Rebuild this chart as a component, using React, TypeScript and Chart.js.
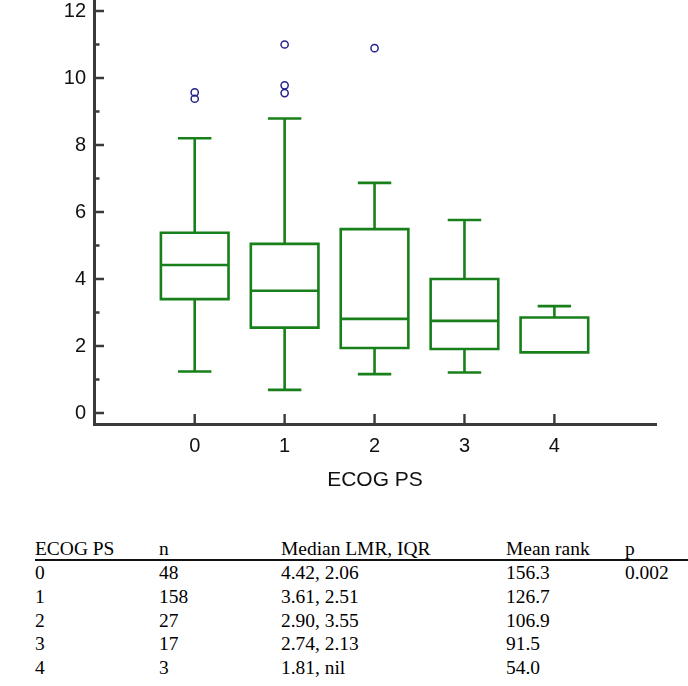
import React, { useEffect, useRef } from "react";
import { Chart, registerables } from "chart.js";

Chart.register(...registerables);

// ---- chart data ----
const categories = [0, 1, 2, 3, 4];
const categoryLabels = ["0", "1", "2", "3", "4"];
const whiskerLow = [1.24, 0.69, 1.16, 1.21, 1.81];
const quartile1 = [3.4, 2.55, 1.94, 1.91, 1.81];
const medians = [4.42, 3.65, 2.81, 2.75, 1.81];
const quartile3 = [5.38, 5.05, 5.49, 4.0, 2.85];
const whiskerHigh = [8.2, 8.79, 6.87, 5.76, 3.19];
const outlierX = [0, 0, 1, 1, 1, 2];
const outlierY = [9.57, 9.38, 11.0, 9.78, 9.55, 10.89];
const yMajorTicks = [0, 2, 4, 6, 8, 10, 12];
const yMinorTicks = [1, 3, 5, 7, 9, 11];
const xAxisTitle = "ECOG PS";

// ---- table data ----
const tableHeader = ["ECOG PS", "n", "Median LMR, IQR", "Mean rank", "p"];
const tableEcog = ["0", "1", "2", "3", "4"];
const tableN = ["48", "158", "27", "17", "3"];
const tableMedianIqr = ["4.42, 2.06", "3.61, 2.51", "2.90, 3.55", "2.74, 2.13", "1.81, nil"];
const tableMeanRank = ["156.3", "126.7", "106.9", "91.5", "54.0"];
const tableP = ["0.002", "", "", "", ""];

const BOX_COLOR = "#17801a";
const AXIS_COLOR = "#3a3a3a";
const OUTLIER_COLOR = "#23238a";
const SANS = "'Liberation Sans', Arial, sans-serif";
const SERIF = "'Liberation Serif', 'Times New Roman', serif";

const BOX_HALF = 0.376;
const CAP_HALF = 0.186;

const boxPlugin = {
  id: "boxplotDraw",
  beforeDatasetsDraw(chart: any) {
    const { ctx, scales } = chart;
    const x = scales.x;
    const y = scales.y;
    ctx.save();
    ctx.strokeStyle = BOX_COLOR;
    ctx.lineWidth = 2.6;
    ctx.lineCap = "butt";
    categories.forEach((c, i) => {
      const xc = x.getPixelForValue(c);
      const xl = x.getPixelForValue(c - BOX_HALF);
      const xr = x.getPixelForValue(c + BOX_HALF);
      const cl = x.getPixelForValue(c - CAP_HALF);
      const cr = x.getPixelForValue(c + CAP_HALF);
      const p = (v: number) => y.getPixelForValue(v);
      ctx.beginPath();
      ctx.rect(xl, p(quartile3[i]), xr - xl, p(quartile1[i]) - p(quartile3[i]));
      ctx.moveTo(xl, p(medians[i]));
      ctx.lineTo(xr, p(medians[i]));
      if (whiskerHigh[i] > quartile3[i]) {
        ctx.moveTo(xc, p(quartile3[i]));
        ctx.lineTo(xc, p(whiskerHigh[i]));
        ctx.moveTo(cl, p(whiskerHigh[i]));
        ctx.lineTo(cr, p(whiskerHigh[i]));
      }
      if (whiskerLow[i] < quartile1[i]) {
        ctx.moveTo(xc, p(quartile1[i]));
        ctx.lineTo(xc, p(whiskerLow[i]));
        ctx.moveTo(cl, p(whiskerLow[i]));
        ctx.lineTo(cr, p(whiskerLow[i]));
      }
      ctx.stroke();
    });
    ctx.restore();
  },
};

const inTickPlugin = {
  id: "inwardTicks",
  afterDraw(chart: any) {
    const { ctx, scales, chartArea } = chart;
    const x = scales.x;
    const y = scales.y;
    ctx.save();
    ctx.strokeStyle = AXIS_COLOR;
    ctx.lineWidth = 2.4;
    ctx.beginPath();
    yMajorTicks.forEach((v) => {
      const py = y.getPixelForValue(v);
      ctx.moveTo(chartArea.left, py);
      ctx.lineTo(chartArea.left + 10, py);
    });
    yMinorTicks.forEach((v) => {
      const py = y.getPixelForValue(v);
      ctx.moveTo(chartArea.left, py);
      ctx.lineTo(chartArea.left + 5.5, py);
    });
    categories.forEach((c) => {
      const px = x.getPixelForValue(c);
      ctx.moveTo(px, chartArea.bottom);
      ctx.lineTo(px, chartArea.bottom - 10);
    });
    ctx.stroke();
    ctx.restore();
  },
};

const CANVAS_H = 506;
const CANVAS_TOP = -6;

function BoxChart() {
  const ref = useRef<HTMLCanvasElement | null>(null);
  useEffect(() => {
    if (!ref.current) return;
    const chart: any = new Chart(ref.current, {
      type: "scatter",
      data: {
        datasets: [
          {
            label: "outliers",
            data: outlierX.map((xv, i) => ({ x: xv, y: outlierY[i] })),
            pointStyle: "circle",
            pointRadius: 3.6,
            pointBorderWidth: 1.5,
            pointBorderColor: OUTLIER_COLOR,
            pointBackgroundColor: "rgba(0,0,0,0)",
            borderColor: OUTLIER_COLOR,
            backgroundColor: "rgba(0,0,0,0)",
            clip: false as any,
          },
        ],
      },
      options: {
        animation: false,
        responsive: false,
        devicePixelRatio: 1,
        layout: { padding: { left: 0, right: 32, top: 0, bottom: 0 } },
        plugins: {
          legend: { display: false },
          title: { display: false },
          tooltip: { enabled: false },
        },
        scales: {
          x: {
            type: "linear",
            min: -1.12,
            max: 5.13,
            grid: { display: false, drawTicks: false },
            border: { display: true, color: AXIS_COLOR, width: 3 },
            afterBuildTicks: (scale: any) => {
              scale.ticks = categories.map((v) => ({ value: v }));
            },
            afterFit: (scale: any) => {
              scale.height = 76;
            },
            ticks: {
              autoSkip: false,
              maxRotation: 0,
              padding: 10,
              color: "#111",
              font: { family: SANS, size: 20 },
              callback: (v: any, i: number) => categoryLabels[i],
            },
            title: {
              display: true,
              text: xAxisTitle,
              color: "#111",
              font: { family: SANS, size: 21 },
              padding: { top: 0, bottom: 7 },
            },
          },
          y: {
            type: "linear",
            min: -0.328,
            max: 12.343,
            grid: { display: false, drawTicks: false },
            border: { display: true, color: AXIS_COLOR, width: 3 },
            afterBuildTicks: (scale: any) => {
              scale.ticks = yMajorTicks.map((v) => ({ value: v }));
            },
            afterFit: (scale: any) => {
              scale.width = 94;
              scale.paddingTop = 0;
              scale.paddingBottom = 0;
            },
            ticks: {
              padding: 8,
              color: "#111",
              font: { family: SANS, size: 20 },
              callback: (v: any) => String(v),
            },
          },
        },
      },
      plugins: [boxPlugin, inTickPlugin],
    } as any);
    return () => chart.destroy();
  }, []);
  return (
    <canvas
      ref={ref}
      width={688}
      height={CANVAS_H}
      style={{ position: "absolute", left: 0, top: CANVAS_TOP, display: "block", width: 688, height: CANVAS_H }}
    />
  );
}

const colLeft = [35, 159, 281, 506, 625];
const rowCenters = [573, 596.5, 620.5, 644, 668];
const headerCenter = 549;

function TableRow({ cells, center }: { cells: string[]; center: number }) {
  return (
    <>
      {cells.map((t, i) => (
        <div
          key={i}
          style={{
            position: "absolute",
            left: colLeft[i],
            top: center - 10,
            height: 20,
            lineHeight: "20px",
            fontFamily: SERIF,
            fontSize: 18,
            color: "#000",
            whiteSpace: "nowrap",
            transform: "scaleX(1.08)",
            transformOrigin: "left center",
          }}
        >
          {t}
        </div>
      ))}
    </>
  );
}

export default function App() {
  const rows = tableEcog.map((e, i) => [e, tableN[i], tableMedianIqr[i], tableMeanRank[i], tableP[i]]);
  return (
    <div style={{ position: "absolute", left: 0, top: 0, width: 688, height: 686, background: "#fff", overflow: "hidden" }}>
      <BoxChart />
      <TableRow cells={tableHeader} center={headerCenter} />
      <div style={{ position: "absolute", left: 35, top: 559, width: 653, height: 1.6, background: "#111" }} />
      {rows.map((r, i) => (
        <TableRow key={i} cells={r} center={rowCenters[i]} />
      ))}
    </div>
  );
}
